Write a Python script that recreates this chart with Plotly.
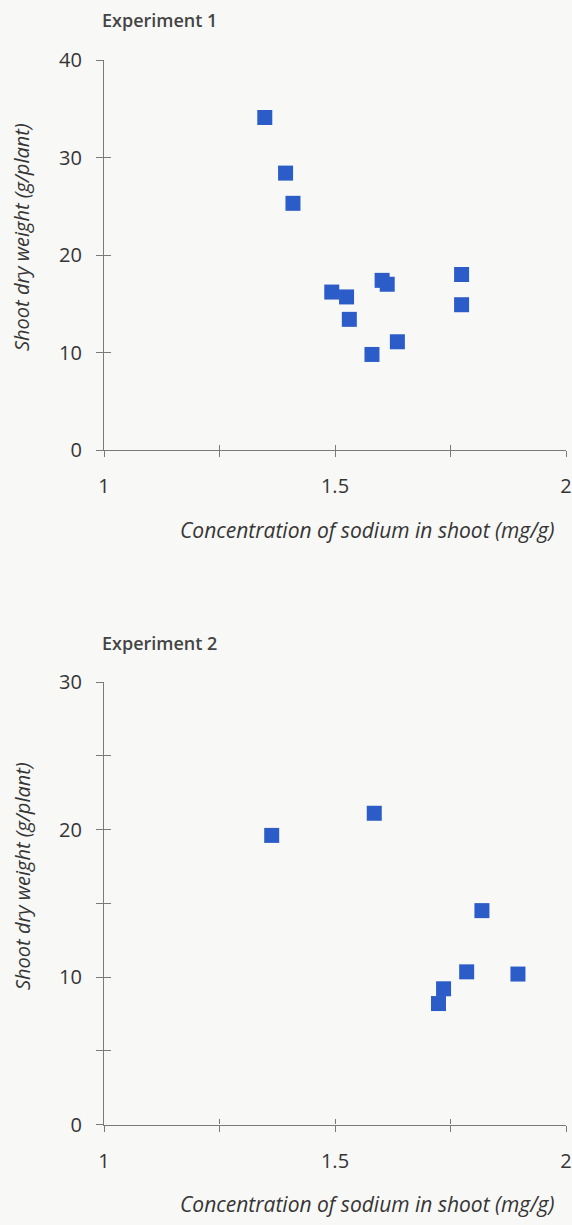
import plotly.graph_objects as go

# ---- data ----
exp1_sodium = [1.348, 1.393, 1.409, 1.493, 1.525, 1.531, 1.580, 1.602, 1.613, 1.635, 1.774, 1.774]
exp1_weight = [34.1, 28.4, 25.3, 16.2, 15.7, 13.4, 9.8, 17.4, 17.0, 11.1, 18.0, 14.9]
exp2_sodium = [1.363, 1.585, 1.818, 1.785, 1.896, 1.735, 1.724]
exp2_weight = [19.6, 21.1, 14.5, 10.35, 10.2, 9.2, 8.2]

x_tickvals = [1, 1.25, 1.5, 1.75, 2]
x_ticktext = ["1", "", "1.5", "", "2"]
y1_tickvals = [0, 10, 20, 30, 40]
y1_ticktext = ["0", "10", "20", "30", "40"]
y2_tickvals = [0, 5, 10, 15, 20, 25, 30]
y2_ticktext = ["0", "", "10", "", "20", "", "30"]

titles = ["Experiment 1", "Experiment 2"]
x_title = "Concentration of sodium in shoot (mg/g)"
y_title = "Shoot dry weight (g/plant)"

FONT = "Open Sans"
AXC = "#7a7a7a"
TXT = "#353535"
MARK = "#2b5cc8"

W, H = 572, 1225
L, R = 104, 6

def py(p):
    return 1 - p / H

def px(p):
    return (p - L) / (W - L - R)

fig = go.Figure()
fig.add_trace(go.Scatter(x=exp1_sodium, y=exp1_weight, mode="markers", xaxis="x", yaxis="y",
                         marker=dict(symbol="square", size=15, color=MARK), cliponaxis=False,
                         showlegend=False))
fig.add_trace(go.Scatter(x=exp2_sodium, y=exp2_weight, mode="markers", xaxis="x2", yaxis="y2",
                         marker=dict(symbol="square", size=15, color=MARK), cliponaxis=False,
                         showlegend=False))
# empty traces for overlay axes (inside half of crossing ticks)
fig.add_trace(go.Scatter(x=[], y=[], xaxis="x3", yaxis="y3", showlegend=False))
fig.add_trace(go.Scatter(x=[], y=[], xaxis="x4", yaxis="y4", showlegend=False))

dom1 = [py(450), py(60)]
dom2 = [py(1124.5), py(682)]

common_x = dict(range=[1, 2], showgrid=False, zeroline=False, showline=True, linecolor=AXC,
                linewidth=1.3, tickcolor=AXC, tickwidth=1.3, ticklen=6, ticks="outside",
                tickmode="array", tickvals=x_tickvals, ticktext=x_ticktext,
                tickfont=dict(family=FONT, size=20, color=TXT), ticklabelstandoff=12,
                domain=[0, 1], fixedrange=True, automargin=False)
common_y = dict(showgrid=False, zeroline=False, showline=True, linecolor=AXC,
                linewidth=1.3, tickcolor=AXC, tickwidth=1.3, ticklen=7, ticks="outside",
                tickmode="array", tickfont=dict(family=FONT, size=20, color=TXT),
                ticklabelstandoff=10, fixedrange=True, automargin=False)

fig.update_layout(
    width=W, height=H,
    margin=dict(l=L, r=R, t=0, b=0, autoexpand=False),
    paper_bgcolor="#f8f8f6", plot_bgcolor="rgba(0,0,0,0)",
    xaxis=dict(common_x, anchor="y"),
    yaxis=dict(common_y, anchor="x", range=[0, 40], domain=dom1,
               tickvals=y1_tickvals, ticktext=y1_ticktext),
    xaxis2=dict(common_x, anchor="y2"),
    yaxis2=dict(common_y, anchor="x2", range=[0, 30], domain=dom2,
                tickvals=y2_tickvals, ticktext=y2_ticktext),
    xaxis3=dict(common_x, anchor="y3", overlaying="x", ticks="inside", showticklabels=False, ticklen=5),
    yaxis3=dict(common_y, anchor="x3", overlaying="y", range=[0, 40], ticks="inside",
                showticklabels=False, tickvals=y1_tickvals, ticklen=7),
    xaxis4=dict(common_x, anchor="y4", overlaying="x2", ticks="inside", showticklabels=False, ticklen=5),
    yaxis4=dict(common_y, anchor="x4", overlaying="y2", range=[0, 30], ticks="inside",
                showticklabels=False, tickvals=y2_tickvals, ticklen=7),
)

annots = []
for t, ty in zip(titles, [20, 643]):
    annots.append(dict(text=t, x=px(100), y=py(ty), xref="paper", yref="paper",
                       xanchor="left", yanchor="middle", showarrow=False,
                       font=dict(family=FONT, size=18, color="#444", weight=600)))
for ty in [237, 876]:
    annots.append(dict(text="<i>" + y_title + "</i>", x=px(22), y=py(ty), xref="paper", yref="paper",
                       xanchor="center", yanchor="middle", textangle=-90, showarrow=False,
                       font=dict(family=FONT, size=20, color=TXT)))
for ty in [530, 1204]:
    annots.append(dict(text="<i>" + x_title + "</i>", x=px(367), y=py(ty), xref="paper", yref="paper",
                       xanchor="center", yanchor="middle", showarrow=False,
                       font=dict(family=FONT, size=21, color=TXT)))
fig.update_layout(annotations=annots)

fig.write_html("out.html", config={"displayModeBar": False},
               post_script="document.body.style.margin='0';document.body.style.overflow='hidden';")
